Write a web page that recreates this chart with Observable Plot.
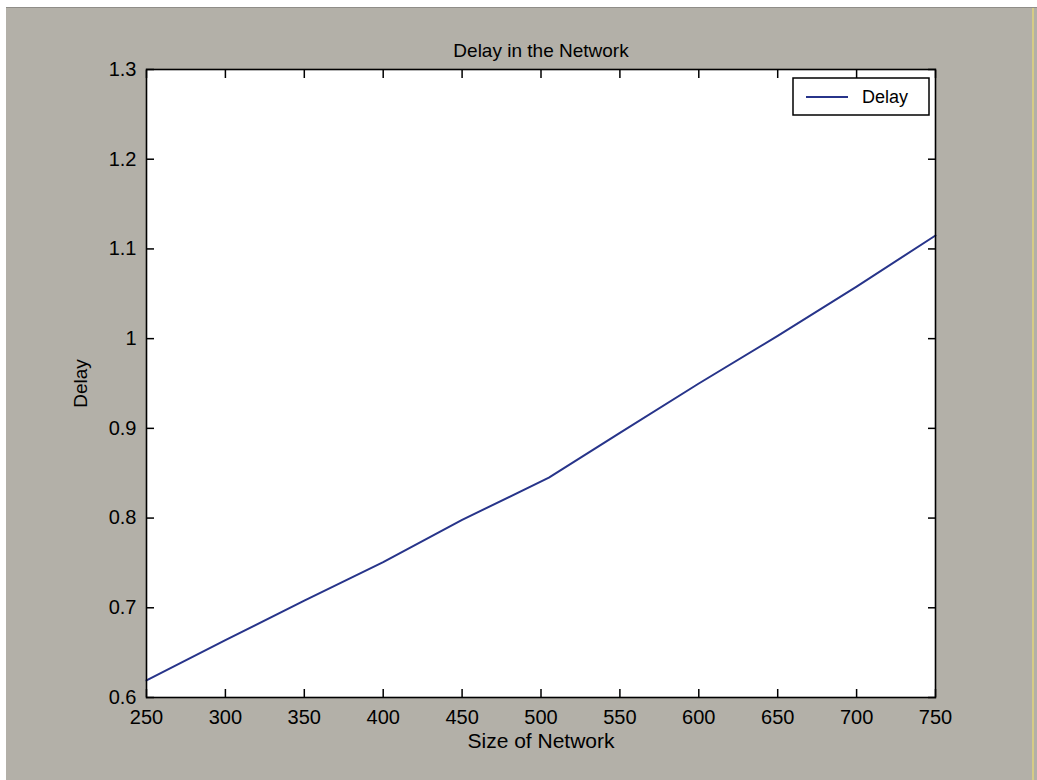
<!DOCTYPE html>
<html>
<head>
<meta charset="utf-8">
<script src="https://cdn.jsdelivr.net/npm/d3@7"></script>
<script src="https://cdn.jsdelivr.net/npm/@observablehq/plot@0.6"></script>
<style>
  html, body { margin: 0; padding: 0; background: #ffffff; }
  body { width: 1037px; height: 780px; position: relative; overflow: hidden; }
  #figure {
    position: absolute; left: 6px; top: 7px; width: 1031px; height: 773px;
    background: #b3b0a8; border-top: 1px solid #8f8d88;
  }
  #edge {
    position: absolute; left: 1032px; top: 8px; width: 2px; height: 772px;
    background: #d6cc86;
  }
  #chart { position: absolute; left: 0; top: 0; }
  #chart svg { background: transparent; }
</style>
</head>
<body>
<div id="figure"></div>
<div id="edge"></div>
<div id="chart"></div>
<script>
// Network size vs. measured delay
const networkSize = [250, 300, 350, 400, 450, 505, 550, 600, 650, 700, 750];
const delay = [0.619, 0.664, 0.708, 0.751, 0.798, 0.845, 0.895, 0.950, 1.003, 1.058, 1.115];

const xTicks = [250, 300, 350, 400, 450, 500, 550, 600, 650, 700, 750];
const yTicks = [0.6, 0.7, 0.8, 0.9, 1.0, 1.1, 1.2, 1.3];
const yTickLabels = ["0.6", "0.7", "0.8", "0.9", "1", "1.1", "1.2", "1.3"];

const seriesName = "Delay";
const titleText = "Delay in the Network";
const xLabel = "Size of Network";
const yLabel = "Delay";

const lineColor = "#27348a";
const font = "'Liberation Sans', Arial, Helvetica, sans-serif";

const data = networkSize.map((s, i) => ({size: s, delay: delay[i]}));

// Legend box in the upper-right corner of the axes
function legend(index, scales, values, dims) {
  const right = dims.width - dims.marginRight;
  const top = dims.marginTop;
  const g = d3.create("svg:g");
  g.append("rect")
    .attr("x", right - 142).attr("y", top + 9)
    .attr("width", 136).attr("height", 37)
    .attr("fill", "white").attr("stroke", "black").attr("stroke-width", 1.5);
  g.append("line")
    .attr("x1", right - 129).attr("x2", right - 87)
    .attr("y1", top + 28).attr("y2", top + 28)
    .attr("stroke", lineColor).attr("stroke-width", 2);
  g.append("text")
    .attr("x", right - 73).attr("y", top + 28)
    .attr("dy", "0.35em")
    .attr("text-anchor", "start")
    .attr("font-family", font).attr("font-size", 18)
    .attr("fill", "black")
    .text(seriesName);
  return g.node();
}

const tickStyle = {tickSize: -8, strokeWidth: 1.5, fontSize: 20};

const chart = Plot.plot({
  width: 1037,
  height: 780,
  marginLeft: 146,
  marginRight: 102,
  marginTop: 69,
  marginBottom: 83,
  style: {fontFamily: font, fontSize: "20px", color: "black", background: "transparent"},
  x: {domain: [250, 750]},
  y: {domain: [0.6, 1.3]},
  marks: [
    Plot.frame({fill: "white", stroke: null}),
    Plot.line(data, {x: "size", y: "delay", stroke: lineColor, strokeWidth: 2}),
    Plot.axisX(xTicks, {anchor: "bottom", ...tickStyle, tickPadding: 20, label: null}),
    Plot.axisX(xTicks, {anchor: "top", ...tickStyle, tickFormat: () => "", label: null}),
    Plot.axisY(yTicks, {anchor: "left", ...tickStyle, tickPadding: 18, label: null,
      tickFormat: d => yTickLabels[yTicks.indexOf(d)]}),
    Plot.axisY(yTicks, {anchor: "right", ...tickStyle, tickFormat: () => "", label: null}),
    Plot.frame({stroke: "black", strokeWidth: 1.6}),
    Plot.text([titleText], {frameAnchor: "top", dy: -19, lineAnchor: "middle", textAnchor: "middle", fontSize: 19, fill: "black"}),
    Plot.text([xLabel], {frameAnchor: "bottom", dy: 36, lineAnchor: "top", textAnchor: "middle", fontSize: 21, fill: "black"}),
    Plot.text([yLabel], {frameAnchor: "left", dx: -66, rotate: -90, lineAnchor: "middle", textAnchor: "middle", fontSize: 19, fill: "black"}),
    legend
  ]
});

document.getElementById("chart").appendChild(chart);
</script>
</body>
</html>
